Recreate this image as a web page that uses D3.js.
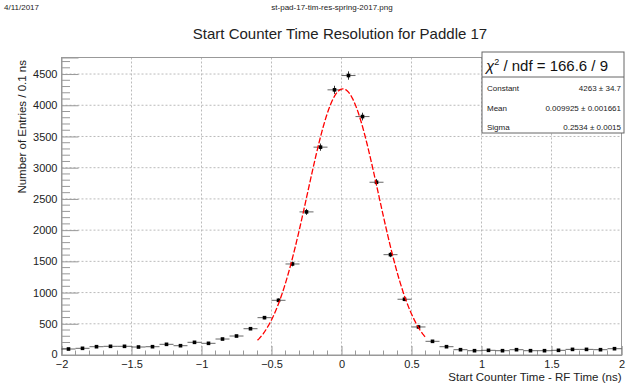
<!DOCTYPE html>
<html><head><meta charset="utf-8">
<script src="https://cdn.jsdelivr.net/npm/d3@7"></script>
<style>body{margin:0;background:#fff;} svg{display:block;font-family:"Liberation Sans",Arial,sans-serif;}</style>
</head><body>
<svg id="c" width="630" height="386"></svg>
<script>
// ---- data ----
const binCenters = [-1.95,-1.85,-1.75,-1.65,-1.55,-1.45,-1.35,-1.25,-1.15,-1.05,
  -0.95,-0.85,-0.75,-0.65,-0.55,-0.45,-0.35,-0.25,-0.15,-0.05,
  0.05,0.15,0.25,0.35,0.45,0.55,0.65,0.75,0.85,0.95,
  1.05,1.15,1.25,1.35,1.45,1.55,1.65,1.75,1.85,1.95];
const counts = [96,107,133,139,139,128,133,171,149,203,
  187,256,304,421,598,876,1458,2292,3329,4247,
  4476,3819,2767,1607,893,449,219,133,85,69,
  75,69,85,69,69,75,90,90,85,101];
const binWidth = 0.1;
const fitParams = [4263, 0.009925, 0.2534]; // constant, mean, sigma
const fitRange = [-0.6, 0.6];
const xTicks = [-2,-1.5,-1,-0.5,0,0.5,1,1.5,2];
const yTicks = [0,500,1000,1500,2000,2500,3000,3500,4000,4500];
const statLabels = ["Constant","Mean","Sigma"];
const statValues = ["4263 \u00b1 34.7","0.009925 \u00b1 0.001661","0.2534 \u00b1 0.0015"];

const svg = d3.select("#c");
const L = 61.5, R = 621.5, T = 57.5, B = 355;
const x = d3.scaleLinear().domain([-2,2]).range([L,R]);
const y = d3.scaleLinear().domain([0,4765]).range([B,T]);

// header texts
svg.append("text").attr("x",4).attr("y",10).attr("font-size",8).attr("fill","#222").text("4/11/2017");
svg.append("text").attr("x",332).attr("y",10).attr("font-size",8).attr("fill","#222").attr("text-anchor","middle").text("st-pad-17-tim-res-spring-2017.png");
svg.append("text").attr("x",340).attr("y",39).attr("font-size",15).attr("fill","#222").attr("text-anchor","middle").text("Start Counter Time Resolution for Paddle 17");

// grid
const g = svg.append("g");
g.selectAll(".gx").data(xTicks.filter(v=>v>-2&&v<2)).join("line")
  .attr("x1",d=>x(d)).attr("x2",d=>x(d)).attr("y1",T).attr("y2",B)
  .attr("stroke","#bbb").attr("stroke-width",1).attr("stroke-dasharray","2,2");
g.selectAll(".gy").data(yTicks.filter(v=>v>0)).join("line")
  .attr("x1",L).attr("x2",R).attr("y1",d=>y(d)).attr("y2",d=>y(d))
  .attr("stroke","#bbb").attr("stroke-width",1).attr("stroke-dasharray","2,2");

// frame
svg.append("rect").attr("x",L).attr("y",T).attr("width",R-L).attr("height",B-T)
  .attr("fill","none").attr("stroke","#999").attr("stroke-width",1);

// axes
const xAxis = d3.axisBottom(x).tickValues(xTicks).tickSize(-9).tickPadding(5)
  .tickFormat(d=>String(d).replace("-","\u2212"));
const xa = svg.append("g").attr("transform",`translate(0,${B})`).call(xAxis);
xa.select(".domain").attr("stroke","#999");
xa.selectAll(".tick line").attr("stroke","#999");
xa.selectAll("text").attr("font-size",11).attr("fill","#222").attr("font-family","Liberation Sans, Arial, sans-serif");
const xMinor = d3.range(-20,21).map(i=>i/10).filter(v=>Math.abs(v*2-Math.round(v*2))>1e-6);
svg.append("g").selectAll("line").data(xMinor).join("line")
  .attr("x1",d=>x(d)).attr("x2",d=>x(d)).attr("y1",B).attr("y2",B-4.5).attr("stroke","#999");

const yAxis = d3.axisLeft(y).tickValues(yTicks).tickSize(-17).tickPadding(4).tickFormat(d=>String(d));
const ya = svg.append("g").attr("transform",`translate(${L},0)`).call(yAxis);
ya.select(".domain").attr("stroke","#999");
ya.selectAll(".tick line").attr("stroke","#999");
ya.selectAll("text").attr("font-size",11).attr("fill","#222").attr("font-family","Liberation Sans, Arial, sans-serif");
ya.selectAll(".tick").filter(d=>d===0).select("text").attr("dy","0.2em");
const yMinor = d3.range(0,4800,100).filter(v=>v%500!==0);
svg.append("g").selectAll("line").data(yMinor).join("line")
  .attr("x1",L).attr("x2",L+8.5).attr("y1",d=>y(d)).attr("y2",d=>y(d)).attr("stroke","#999");

// axis titles
svg.append("text").attr("x",R).attr("y",381).attr("text-anchor","end").attr("font-size",11.5).attr("fill","#222")
  .text("Start Counter Time - RF Time (ns)");
svg.append("text").attr("transform",`translate(26,60) rotate(-90)`).attr("text-anchor","end").attr("font-size",11.5).attr("fill","#222")
  .text("Number of Entries / 0.1 ns");

// data points with error bars
const pts = svg.append("g");
binCenters.forEach((c,i)=>{
  const n = counts[i], e = Math.sqrt(n);
  pts.append("line").attr("x1",x(c-binWidth/2)).attr("x2",x(c+binWidth/2)).attr("y1",y(n)).attr("y2",y(n))
    .attr("stroke","#000").attr("stroke-width",0.8).attr("stroke-opacity",0.75);
  pts.append("line").attr("x1",x(c)).attr("x2",x(c)).attr("y1",y(n+e)).attr("y2",y(n-e))
    .attr("stroke","#000").attr("stroke-width",0.8);
  pts.append("rect").attr("x",x(c)-1.8).attr("y",y(n)-1.8).attr("width",3.6).attr("height",3.6).attr("fill","#000");
});

// fit curve (gaussian from fit parameters)
const [A,mu,sig] = fitParams;
const fx = d3.range(fitRange[0], fitRange[1]+1e-9, 0.01);
const line = d3.line().x(d=>x(d)).y(d=>y(A*Math.exp(-0.5*((d-mu)/sig)**2)));
svg.append("path").datum(fx).attr("d",line).attr("fill","none").attr("stroke","#f00")
  .attr("stroke-width",1.3).attr("stroke-dasharray","6,2");

// stats box
const sb = svg.append("g");
sb.append("rect").attr("x",482).attr("y",52).attr("width",142).attr("height",81).attr("fill","#fff").attr("stroke","#666").attr("stroke-width",1);
sb.append("line").attr("x1",482).attr("x2",624).attr("y1",77).attr("y2",77).attr("stroke","#666");
const chi = sb.append("text").attr("x",486).attr("y",71).attr("font-size",15).attr("fill","#111");
chi.append("tspan").attr("font-style","italic").text("\u03c7");
chi.append("tspan").attr("font-size",9).attr("dy",-6).text("2");
chi.append("tspan").attr("dy",6).text(" / ndf = 166.6 / 9");
statLabels.forEach((s,i)=>{
  const yy = 91 + i*19.5;
  sb.append("text").attr("x",487).attr("y",yy).attr("font-size",8).attr("fill","#222").text(s);
  sb.append("text").attr("x",621).attr("y",yy).attr("font-size",8).attr("fill","#222").attr("text-anchor","end").text(statValues[i]);
});
</script>
</body></html>
